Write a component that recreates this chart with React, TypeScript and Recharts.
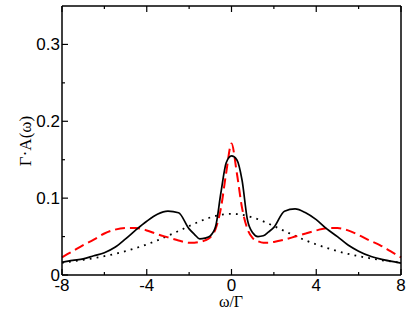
import React from "react";
import { LineChart, Line, XAxis, YAxis, Label } from "recharts";

// omega / Gamma grid
const omega = [
  -8, -7.5, -7, -6.5, -6, -5.5, -5, -4.5, -4, -3.5, -3, -2.5, -2, -1.75, -1.5, -1.25, -1, -0.75, -0.5, -0.25, 0,
  0.25, 0.5, 0.75, 1, 1.25, 1.5, 1.75, 2, 2.5, 3, 3.5, 4, 4.5, 5, 5.5, 6, 6.5, 7, 7.5, 8,
];

// solid black curve
const solid = [
  0.0165, 0.019, 0.021, 0.025, 0.029, 0.036, 0.047, 0.059, 0.07, 0.079, 0.083, 0.081, 0.06, 0.053, 0.047, 0.048, 0.051,
  0.063, 0.107, 0.146, 0.155, 0.15, 0.123, 0.072, 0.055, 0.05, 0.051, 0.056, 0.062, 0.083, 0.086, 0.081, 0.072, 0.06,
  0.05, 0.039, 0.031, 0.025, 0.021, 0.018, 0.0155,
];

// red dashed curve
const dashed = [
  0.023, 0.031, 0.039, 0.046, 0.054, 0.059, 0.061, 0.061, 0.058, 0.053, 0.049, 0.045, 0.042, 0.042, 0.043, 0.045, 0.049,
  0.06, 0.087, 0.133, 0.171, 0.133, 0.087, 0.06, 0.048, 0.044, 0.042, 0.042, 0.043, 0.046, 0.05, 0.054, 0.058, 0.061,
  0.061, 0.058, 0.052, 0.045, 0.039, 0.031, 0.023,
];

// black dotted curve
const dotted = [
  0.016, 0.0177, 0.0196, 0.0219, 0.0245, 0.0275, 0.031, 0.0352, 0.0398, 0.045, 0.051, 0.0572, 0.0637, 0.0668, 0.0698,
  0.0725, 0.0749, 0.0769, 0.0784, 0.0793, 0.0796, 0.0793, 0.0784, 0.0769, 0.0749, 0.0725, 0.0698, 0.0668, 0.0637,
  0.0572, 0.051, 0.045, 0.0398, 0.0352, 0.031, 0.0275, 0.0245, 0.0219, 0.0196, 0.0177, 0.016,
];

const xTicks = [-8, -6, -4, -2, 0, 2, 4, 6, 8];
const yTicks = [0, 0.05, 0.1, 0.15, 0.2, 0.25, 0.3];

const data = omega.map((w, i) => ({ w, solid: solid[i], dashed: dashed[i], dotted: dotted[i] }));

const sans = "'Liberation Sans', Arial, sans-serif";
const serif = "'Liberation Serif', 'Times New Roman', serif";

const isMajorX = (v: number) => v % 4 === 0;
const isMajorY = (v: number) => Math.round(v * 100) % 10 === 0;

const BottomTick = ({ x, y, payload }: any) => {
  const major = isMajorX(payload.value);
  return (
    <g>
      <line x1={x} x2={x} y1={y} y2={y - (major ? 6 : 3)} stroke="#000" strokeWidth={1.2} />
      {major && (
        <text x={x} y={y + 16} textAnchor="middle" fontFamily={sans} fontSize={17} fill="#000">
          {payload.value}
        </text>
      )}
    </g>
  );
};

const TopTick = ({ x, y, payload }: any) => {
  const major = isMajorX(payload.value);
  return <line x1={x} x2={x} y1={y} y2={y + (major ? 6 : 3)} stroke="#000" strokeWidth={1.2} />;
};

const LeftTick = ({ x, y, payload }: any) => {
  const major = isMajorY(payload.value);
  return (
    <g>
      <line x1={x} x2={x + (major ? 6 : 3)} y1={y} y2={y} stroke="#000" strokeWidth={1.2} />
      {major && (
        <text x={x - 2} y={y + 6} textAnchor="end" fontFamily={sans} fontSize={17} fill="#000">
          {payload.value}
        </text>
      )}
    </g>
  );
};

const RightTick = ({ x, y, payload }: any) => {
  const major = isMajorY(payload.value);
  return <line x1={x} x2={x - (major ? 6 : 3)} y1={y} y2={y} stroke="#000" strokeWidth={1.2} />;
};

const XTitle = () => (
  <text x={231} y={307} textAnchor="middle" fontFamily={serif} fontSize={16} fill="#000">
    ω/Γ
  </text>
);

const YTitle = () => {
  const cx = 31;
  const cy = 141;
  return (
    <text x={cx} y={cy} textAnchor="middle" fontFamily={serif} fontSize={17} fill="#000" transform={`rotate(-90 ${cx} ${cy})`}>
      Γ·A(ω)
    </text>
  );
};

const axisLine = { stroke: "#000", strokeWidth: 1.5 };

export default function App() {
  return (
    <div style={{ position: "absolute", left: 0, top: 0, background: "#fff" }}>
      <LineChart width={407} height={315} data={data} margin={{ top: 5, right: 5, bottom: 0, left: 0 }}>
        <XAxis
          dataKey="w"
          type="number"
          domain={[-8, 8]}
          ticks={xTicks}
          height={40}
          axisLine={axisLine}
          tickLine={false}
          tickSize={0}
          tickMargin={0}
          tick={<BottomTick />}
          interval={0}
        >
          <Label content={<XTitle />} />
        </XAxis>
        <XAxis
          xAxisId="top"
          orientation="top"
          dataKey="w"
          type="number"
          domain={[-8, 8]}
          ticks={xTicks}
          height={1}
          axisLine={axisLine}
          tickLine={false}
          tickSize={0}
          tickMargin={0}
          tick={<TopTick />}
          interval={0}
        />
        <YAxis
          type="number"
          domain={[0, 0.35]}
          ticks={yTicks}
          width={62}
          axisLine={axisLine}
          tickLine={false}
          tickSize={0}
          tickMargin={0}
          tick={<LeftTick />}
          interval={0}
        >
          <Label content={<YTitle />} />
        </YAxis>
        <YAxis
          yAxisId="right"
          orientation="right"
          type="number"
          domain={[0, 0.35]}
          ticks={yTicks}
          width={1}
          axisLine={axisLine}
          tickLine={false}
          tickSize={0}
          tickMargin={0}
          tick={<RightTick />}
          interval={0}
        />
        <Line
          dataKey="dotted"
          type="monotone"
          stroke="#000"
          strokeWidth={1.8}
          strokeDasharray="1.8 5.2"
          dot={false}
          isAnimationActive={false}
        />
        <Line
          dataKey="dashed"
          type="monotone"
          stroke="#ff0000"
          strokeWidth={2}
          strokeDasharray="10 5"
          dot={false}
          isAnimationActive={false}
        />
        <Line dataKey="solid" type="monotone" stroke="#000" strokeWidth={1.7} dot={false} isAnimationActive={false} />
      </LineChart>
    </div>
  );
}
